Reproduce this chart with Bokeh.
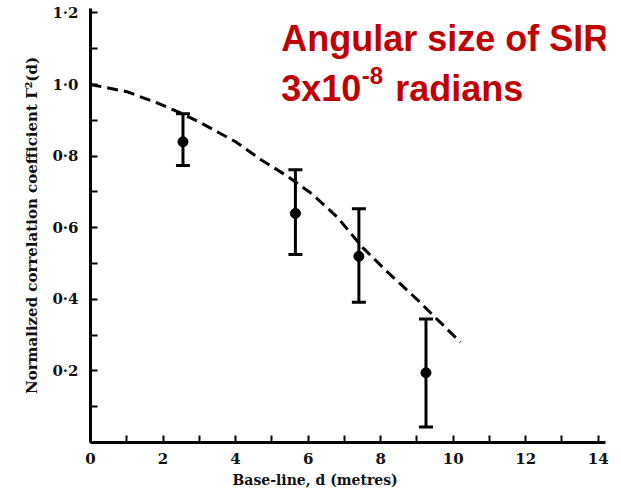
from bokeh.plotting import figure
from bokeh.models import (ColumnDataSource, Whisker, TeeHead, FixedTicker, Label, Range1d, Title)
from bokeh.embed import file_html
from bokeh.resources import INLINE

# Measured data (baseline in metres, normalized correlation)
baseline = [2.55, 5.65, 7.40, 9.25]
corr = [0.84, 0.64, 0.52, 0.195]
corr_low = [0.774, 0.525, 0.392, 0.043]
corr_high = [0.918, 0.762, 0.653, 0.345]

# Theoretical curve (dashed)
curve_x = [0.0, 1.0, 1.8, 2.5, 3.0, 4.0, 4.7, 5.4, 6.1, 6.8, 7.5, 8.2, 9.0, 9.6, 10.2]
curve_y = [1.0, 0.98, 0.95, 0.92, 0.895, 0.84, 0.79, 0.746, 0.695, 0.63, 0.545, 0.475, 0.40, 0.34, 0.28]

x_major = [0, 2, 4, 6, 8, 10, 12, 14]
x_minor = [1, 3, 5, 7, 9, 11, 13]
y_major = [0.2, 0.4, 0.6, 0.8, 1.0, 1.2]
y_minor = [0.1, 0.3, 0.5, 0.7, 0.9, 1.1]
y_tick_labels = ["0·2", "0·4", "0·6", "0·8", "1·0", "1·2"]

serif = "DejaVu Serif"
red = "#C00000"

p = figure(frame_width=515, frame_height=434,
           min_border_left=90, min_border_right=14, min_border_top=8, min_border_bottom=50,
           x_range=Range1d(0, 14.2), y_range=Range1d(0, 1.2123),
           output_backend="svg", toolbar_location=None)
p.outline_line_color = None
p.grid.visible = False
p.background_fill_color = "white"
p.border_fill_color = "white"

for ax in (p.xaxis[0], p.yaxis[0]):
    ax.axis_line_width = 3
    ax.axis_line_color = "black"
    ax.major_tick_in = 7
    ax.major_tick_out = 0
    ax.minor_tick_in = 7
    ax.minor_tick_out = 0
    ax.major_tick_line_width = 2
    ax.minor_tick_line_width = 2
    ax.major_label_text_font = serif
    ax.major_label_text_font_style = "bold"
    ax.major_label_text_font_size = "15px"
    ax.major_label_text_color = "#111111"

p.xaxis.ticker = FixedTicker(ticks=x_major, minor_ticks=x_minor)
p.xaxis.major_label_standoff = 10
p.yaxis.ticker = FixedTicker(ticks=[0] + y_major, minor_ticks=y_minor)
p.yaxis.major_label_overrides = {0: ""} | {t: s for t, s in zip(y_major, y_tick_labels)}
p.yaxis.major_label_standoff = 12
p.yaxis.axis_label = "Normalized correlation coefficient Γ²(d)"
p.yaxis.axis_label_text_font = serif
p.yaxis.axis_label_text_font_style = "bold"
p.yaxis.axis_label_text_font_size = "15px"
p.yaxis.axis_label_standoff = 8
p.yaxis.axis_label_text_color = "#111111"

# dashed theoretical curve
p.line(curve_x, curve_y, line_color="black", line_width=3, line_dash="11 6")

# error bars
src = ColumnDataSource(dict(x=baseline, y=corr, lo=corr_low, hi=corr_high))
w = Whisker(base="x", lower="lo", upper="hi", source=src, dimension="height",
            line_color="black", line_width=3,
            upper_head=TeeHead(size=14, line_width=3, line_color="black"),
            lower_head=TeeHead(size=14, line_width=3, line_color="black"))
p.add_layout(w)
p.scatter("x", "y", source=src, size=10, color="black")

# x axis label (placed left of centre, as in the original)
p.add_layout(Title(text="Base-line, d (metres)", align="left", offset=142, standoff=7,
                   text_font=serif, text_font_style="bold", text_font_size="14px",
                   text_color="#111111"), "below")

# red annotation
p.add_layout(Label(x=5.26, y=1.1285, text="Angular size of SIR", text_font="Liberation Sans",
                   text_font_style="bold", text_font_size="36px", text_color=red,
                   text_baseline="alphabetic"))
p.add_layout(Label(x=5.26, y=0.989, text="3x10", text_font="Liberation Sans",
                   text_font_style="bold", text_font_size="36px", text_color=red,
                   text_baseline="alphabetic"))
p.add_layout(Label(x=7.48, y=1.025, text="-8", text_font="Liberation Sans",
                   text_font_style="bold", text_font_size="24px", text_color=red,
                   text_baseline="alphabetic"))
p.add_layout(Label(x=8.40, y=0.989, text="radians", text_font="Liberation Sans",
                   text_font_style="bold", text_font_size="36px", text_color=red,
                   text_baseline="alphabetic"))

open("out.html", "w").write(file_html(p, INLINE))
